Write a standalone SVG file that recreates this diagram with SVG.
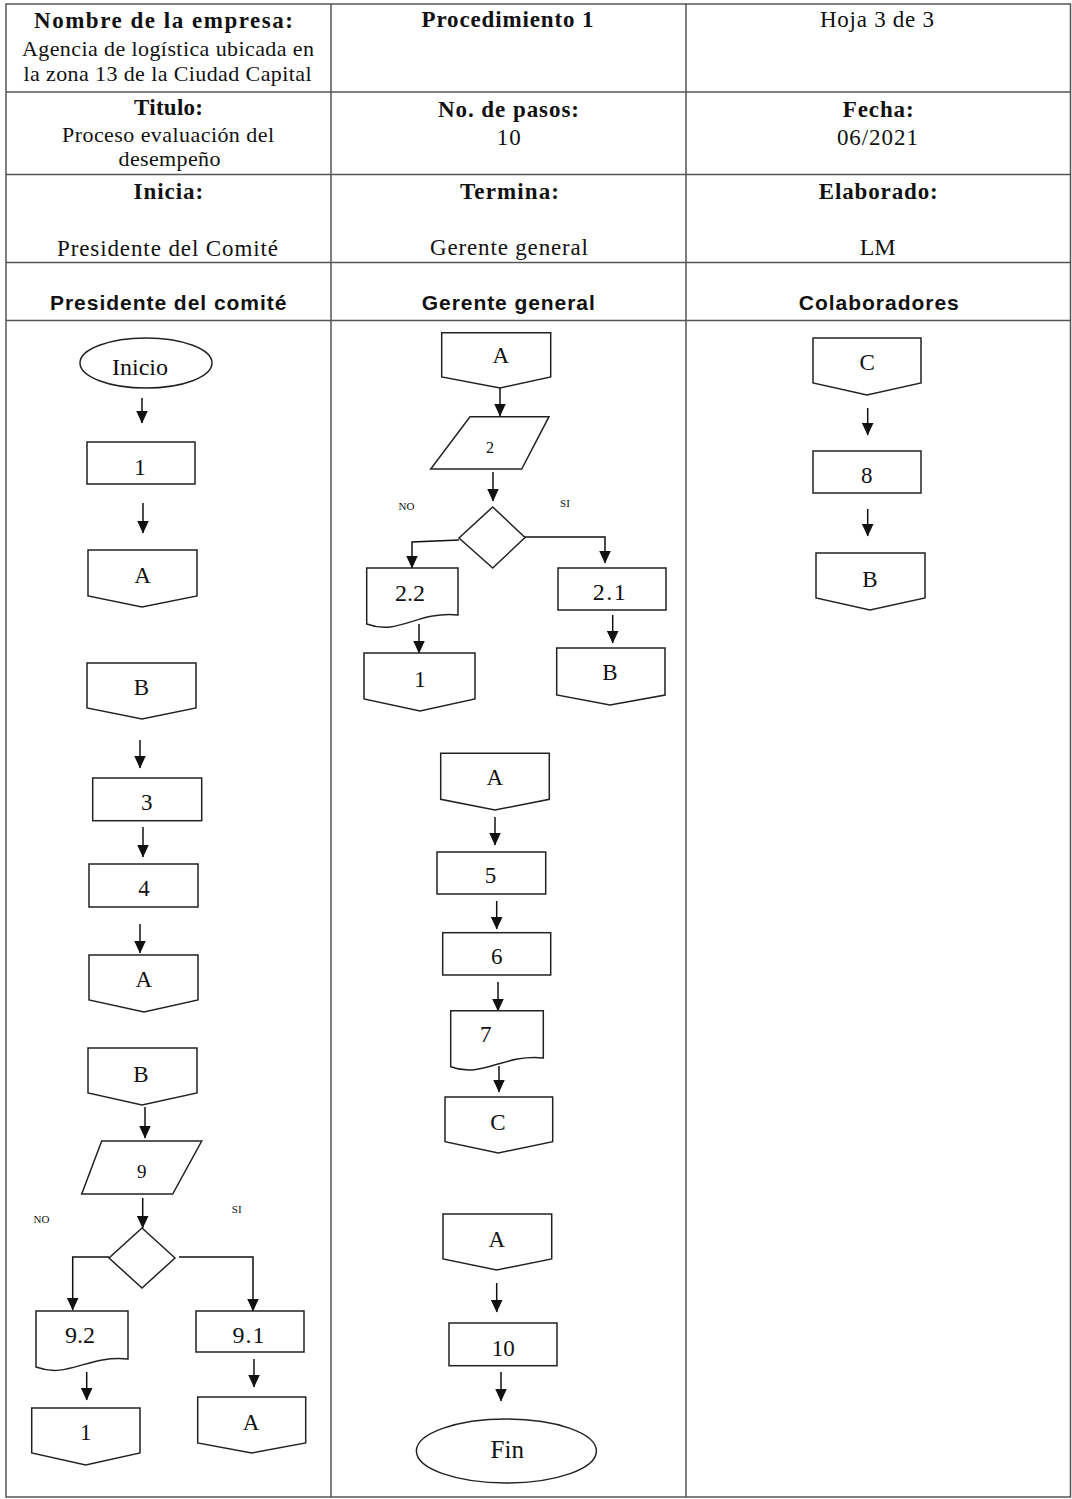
<svg xmlns="http://www.w3.org/2000/svg" width="1072" height="1499" viewBox="0 0 1072 1499">
<style>
.tb{stroke:#555;stroke-width:1.5;fill:none}
.sh{fill:#fff;stroke:#222;stroke-width:1.5}
.cn{stroke:#111;stroke-width:1.5;fill:none}
.t{font-family:"Liberation Serif","Times New Roman",serif;font-size:23px;fill:#111;text-anchor:middle}
.b{font-weight:bold}
.h{font-family:"Liberation Sans",Arial,sans-serif;font-weight:bold;font-size:21px}
.s{font-size:11px}
.m{font-size:24px}
.n{font-size:22px}
</style>
<defs>
<marker id="ah" viewBox="0 0 13 12" refX="12.5" refY="6" markerWidth="13" markerHeight="12" markerUnits="userSpaceOnUse" orient="auto">
<path d="M0,0 L13,6 L0,12 z" fill="#111"/>
</marker>
</defs>
<rect width="1072" height="1499" fill="#fff"/>
<g id="table">
<rect class="tb" x="6" y="4" width="1064.5" height="1493"/>
<line class="tb" x1="331" y1="4" x2="331" y2="1497"/>
<line class="tb" x1="686" y1="4" x2="686" y2="1497"/>
<line class="tb" x1="6" y1="92" x2="1070.5" y2="92"/>
<line class="tb" x1="6" y1="174.5" x2="1070.5" y2="174.5"/>
<line class="tb" x1="6" y1="262.5" x2="1070.5" y2="262.5"/>
<line class="tb" x1="6" y1="320.5" x2="1070.5" y2="320.5"/>
</g>
<g id="header">
<text class="t b" x="163.5" y="28" textLength="259" lengthAdjust="spacing">Nombre de la empresa:</text>
<text class="t n" x="168" y="56" textLength="292" lengthAdjust="spacing">Agencia de logística ubicada en</text>
<text class="t n" x="167.5" y="81" textLength="288" lengthAdjust="spacing">la zona 13 de la Ciudad Capital</text>
<text class="t b" x="507.5" y="27" textLength="172" lengthAdjust="spacing">Procedimiento 1</text>
<text class="t" x="877" y="27" textLength="114" lengthAdjust="spacing">Hoja 3 de 3</text>
<text class="t b" x="168.5" y="115" textLength="69" lengthAdjust="spacing">Titulo:</text>
<text class="t n" x="168" y="142" textLength="212" lengthAdjust="spacing">Proceso evaluación del</text>
<text class="t n" x="169.5" y="166" textLength="102" lengthAdjust="spacing">desempeño</text>
<text class="t b" x="508.5" y="116.5" textLength="141" lengthAdjust="spacing">No. de pasos:</text>
<text class="t" x="508.7" y="145" textLength="24" lengthAdjust="spacing">10</text>
<text class="t b" x="878.2" y="116.5" textLength="71" lengthAdjust="spacing">Fecha:</text>
<text class="t" x="877.4" y="145" textLength="81" lengthAdjust="spacing">06/2021</text>
<text class="t b" x="168.3" y="199" textLength="69.5" lengthAdjust="spacing">Inicia:</text>
<text class="t" x="167.5" y="256" textLength="221" lengthAdjust="spacing">Presidente del Comité</text>
<text class="t b" x="509.5" y="199" textLength="99" lengthAdjust="spacing">Termina:</text>
<text class="t" x="509" y="255" textLength="158" lengthAdjust="spacing">Gerente general</text>
<text class="t b" x="878.2" y="199" textLength="119" lengthAdjust="spacing">Elaborado:</text>
<text class="t" x="877.7" y="255" style="font-size:24px">LM</text>
<text class="t h" x="168.2" y="310" textLength="236.5" lengthAdjust="spacing">Presidente del comité</text>
<text class="t h" x="508.3" y="310" textLength="173" lengthAdjust="spacing">Gerente general</text>
<text class="t h" x="878.8" y="310" textLength="160" lengthAdjust="spacing">Colaboradores</text>
</g>
<g id="connectors">
<line class="cn" x1="142" y1="398" x2="142" y2="423" marker-end="url(#ah)"/>
<line class="cn" x1="143" y1="503" x2="143" y2="533" marker-end="url(#ah)"/>
<line class="cn" x1="140" y1="740" x2="140" y2="768" marker-end="url(#ah)"/>
<line class="cn" x1="143" y1="827" x2="143" y2="857" marker-end="url(#ah)"/>
<line class="cn" x1="140" y1="924" x2="140" y2="953" marker-end="url(#ah)"/>
<line class="cn" x1="145" y1="1107" x2="145" y2="1138" marker-end="url(#ah)"/>
<line class="cn" x1="142.7" y1="1198" x2="142.7" y2="1228" marker-end="url(#ah)"/>
<polyline class="cn" points="109,1257 72.7,1257 72.7,1310" marker-end="url(#ah)"/>
<polyline class="cn" points="179,1257 253,1257 253,1311" marker-end="url(#ah)"/>
<line class="cn" x1="86.7" y1="1372" x2="86.7" y2="1400" marker-end="url(#ah)"/>
<line class="cn" x1="254" y1="1359" x2="254" y2="1387" marker-end="url(#ah)"/>
<line class="cn" x1="500" y1="388" x2="500" y2="416" marker-end="url(#ah)"/>
<line class="cn" x1="493" y1="472" x2="493" y2="501" marker-end="url(#ah)"/>
<polyline class="cn" points="459,540 412,542 412,568" marker-end="url(#ah)"/>
<polyline class="cn" points="525,537 605,537 605,563" marker-end="url(#ah)"/>
<line class="cn" x1="419" y1="624" x2="419" y2="653" marker-end="url(#ah)"/>
<line class="cn" x1="612.7" y1="615" x2="612.7" y2="643" marker-end="url(#ah)"/>
<line class="cn" x1="495" y1="817" x2="495" y2="845" marker-end="url(#ah)"/>
<line class="cn" x1="496.7" y1="901" x2="496.7" y2="929" marker-end="url(#ah)"/>
<line class="cn" x1="498" y1="982" x2="498" y2="1011" marker-end="url(#ah)"/>
<line class="cn" x1="499" y1="1066" x2="499" y2="1092" marker-end="url(#ah)"/>
<line class="cn" x1="496.7" y1="1283" x2="496.7" y2="1312" marker-end="url(#ah)"/>
<line class="cn" x1="501" y1="1372" x2="501" y2="1401" marker-end="url(#ah)"/>
<line class="cn" x1="867.7" y1="408" x2="867.7" y2="435" marker-end="url(#ah)"/>
<line class="cn" x1="867.7" y1="509" x2="867.7" y2="536" marker-end="url(#ah)"/>
</g>
<g id="labels">
<text class="t s" x="41.5" y="1223">NO</text>
<text class="t s" x="236.7" y="1213">SI</text>
<text class="t s" x="406.5" y="510">NO</text>
<text class="t s" x="565" y="507">SI</text>
</g>
<g id="n-inicio"><ellipse class="sh" cx="146" cy="363" rx="66" ry="25"/><text class="t" x="140" y="375" style="font-size:24px">Inicio</text></g>
<g id="n-p1"><rect class="sh" x="87" y="442" width="108" height="42"/><text class="t" x="140" y="475">1</text></g>
<g id="n-pA1"><polygon class="sh" points="88,550 197,550 197,596 142,607 88,596"/><text class="t" x="142.5" y="583">A</text></g>
<g id="n-pB1"><polygon class="sh" points="87,663 196,663 196,708 142,719 87,708"/><text class="t" x="141.3" y="695">B</text></g>
<g id="n-p3"><rect class="sh" x="92.7" y="778" width="109" height="42.7"/><text class="t" x="146.7" y="810">3</text></g>
<g id="n-p4"><rect class="sh" x="89" y="864" width="109" height="43"/><text class="t" x="144" y="896">4</text></g>
<g id="n-pA2"><polygon class="sh" points="89,955 198,955 198,1000 144,1012 89,1000"/><text class="t" x="143.8" y="987">A</text></g>
<g id="n-pB2"><polygon class="sh" points="88,1048 197,1048 197,1093 142,1105 88,1093"/><text class="t" x="141" y="1082">B</text></g>
<g id="n-p9"><polygon class="sh" points="101.7,1141 201.7,1141 172.7,1194 81.7,1194"/><text class="t" x="141.7" y="1178" style="font-size:19px">9</text></g>
<g id="n-d9"><polygon class="sh" points="142,1228 175,1258 142,1288 109,1258"/></g>
<g id="n-p92"><path class="sh" d="M36,1311 H128 V1359 C86.6,1355 68,1379 36,1367 Z"/><text class="t m" x="80" y="1343">9.2</text></g>
<g id="n-p91"><rect class="sh" x="196" y="1311" width="108" height="41"/><text class="t m" x="249" y="1343" style="letter-spacing:1px">9.1</text></g>
<g id="n-p1b"><polygon class="sh" points="31.7,1408 140,1408 140,1453 85.7,1465 31.7,1453"/><text class="t" x="85.8" y="1440">1</text></g>
<g id="n-pA3"><polygon class="sh" points="197.7,1397 305.7,1397 305.7,1443 251.7,1453 197.7,1443"/><text class="t" x="251" y="1430">A</text></g>
<g id="n-gA1"><polygon class="sh" points="441.7,332.7 550.7,332.7 550.7,377 500,388 441.7,377"/><text class="t" x="500.8" y="363.3">A</text></g>
<g id="n-g2"><polygon class="sh" points="470,416.7 549,416.7 521.7,469 430.7,469"/><text class="t" x="490" y="453.3" style="font-size:16px">2</text></g>
<g id="n-d2"><polygon class="sh" points="492.7,507 525,537.5 492.7,568 459,538"/></g>
<g id="n-g22"><path class="sh" d="M366.7,568 H458 V615 C417,611 398.6,636 366.7,624 Z"/><text class="t m" x="410" y="601">2.2</text></g>
<g id="n-g21"><rect class="sh" x="558" y="568" width="108" height="42"/><text class="t m" x="610" y="600" style="letter-spacing:1.5px">2.1</text></g>
<g id="n-g1"><polygon class="sh" points="364,653 475,653 475,699 420,711 364,699"/><text class="t" x="420" y="687">1</text></g>
<g id="n-gB1"><polygon class="sh" points="556.7,648 665,648 665,695 610,705 556.7,695"/><text class="t" x="610" y="680">B</text></g>
<g id="n-gA2"><polygon class="sh" points="440.7,753.3 549.3,753.3 549.3,799.3 495,810 440.7,799.3"/><text class="t" x="494.7" y="785">A</text></g>
<g id="n-g5"><rect class="sh" x="437" y="852" width="108.7" height="42"/><text class="t" x="490.5" y="883">5</text></g>
<g id="n-g6"><rect class="sh" x="442.7" y="932.7" width="108" height="42.3"/><text class="t" x="496.7" y="964">6</text></g>
<g id="n-g7"><path class="sh" d="M450.7,1010.7 H543.3 V1058 C501.6,1054 483,1078.7 450.7,1066.7 Z"/><text class="t" x="485.8" y="1041.7">7</text></g>
<g id="n-gC"><polygon class="sh" points="445,1097 552.7,1097 552.7,1141.7 498.3,1153 445,1141.7"/><text class="t" x="498" y="1130">C</text></g>
<g id="n-gA3"><polygon class="sh" points="443,1214 551.7,1214 551.7,1259 496.7,1270 443,1259"/><text class="t" x="496.7" y="1246.7">A</text></g>
<g id="n-g10"><rect class="sh" x="449" y="1323" width="108" height="42.7"/><text class="t" x="503.3" y="1355.7">10</text></g>
<g id="n-fin"><ellipse class="sh" cx="506.4" cy="1451" rx="90" ry="32"/><text class="t" x="507.3" y="1458" style="font-size:25px">Fin</text></g>
<g id="n-cC"><polygon class="sh" points="813,338 921,338 921,383 867,395 813,383"/><text class="t" x="867.2" y="370">C</text></g>
<g id="n-c8"><rect class="sh" x="813" y="451" width="108" height="42"/><text class="t" x="866.7" y="482.7">8</text></g>
<g id="n-cB"><polygon class="sh" points="816,553 925,553 925,598 870,610 816,598"/><text class="t" x="870" y="586.7">B</text></g>
</svg>
